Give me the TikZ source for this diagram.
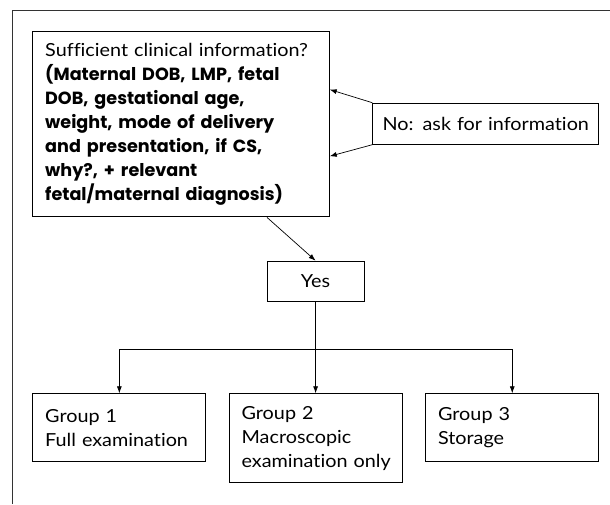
\documentclass[tikz,border=0pt]{standalone}
\usepackage{fontspec}
\setmainfont{Lato}[FakeStretch=1.1, RawFeature={-liga;-dlig}]
\newfontfamily\heavyfont{Poppins}
\newcommand{\hv}[1]{\mbox{\fontsize{17.6}{24}\selectfont\heavyfont\bfseries #1}}
\newcommand{\mytxt}[1]{\mbox{#1}}
\usetikzlibrary{arrows.meta}
\begin{document}
\begin{tikzpicture}[x=1pt,y=-1pt,
  box/.style={draw=black, line width=1pt, inner xsep=12.4pt, inner ysep=0pt, align=left, font=\fontsize{18}{24}\selectfont},
  conn/.style={line width=0.7pt, -{Latex[length=7pt,width=5pt]}},
  ]
\useasboundingbox (0,0) rectangle (610,504);
\draw[line width=0.8pt, black!80] (12.4,504) -- (12.4,10.5) -- (610,10.5);
\node[box, anchor=north west, text width=271.6pt, minimum height=185.7pt] (main) at (32.3,30.7)
 {\mytxt{Sufficient clinical information?}\\
  \hv{(Maternal DOB, LMP, fetal}\\
  \hv{DOB, gestational age,}\\
  \hv{weight, mode of delivery}\\
  \hv{and presentation, if CS,}\\
  \hv{why?, + relevant}\\
  \hv{fetal/maternal diagnosis)}};
\node[box, anchor=north west, align=center, inner xsep=2pt, text width=222pt, minimum height=41pt] (no) at (372.3,102.7) {\mytxt{No: ask for information}};
\node[box, anchor=north west, align=center, text width=72pt, minimum height=40pt] (yes) at (266.7,260.7) {Yes};
\node[box, anchor=north west, text width=148.3pt, minimum height=67.7pt] (g1) at (32.3,393.3) {\mytxt{Group 1}\\\mytxt{Full examination}};
\node[box, anchor=north west, text width=148pt, minimum height=89pt] (g2) at (228.7,393.3) {\mytxt{Group 2}\\\mytxt{Macroscopic}\\\mytxt{examination only}};
\node[box, anchor=north west, text width=148.3pt, minimum height=67.7pt] (g3) at (425.2,393.3) {\mytxt{Group 3}\\\mytxt{Storage}};
\coordinate (split) at (yes.south |- 0,349);
\draw[conn] (no.north west) -- ([yshift=34.5pt]main.east);
\draw[conn] (no.south west) -- ([yshift=-32.2pt]main.east);
\draw[conn] ([xshift=86pt]main.south) -- (yes.north);
\draw[conn] (yes.south) -- (g2.north);
\draw[conn] (split) -| (g1.north);
\draw[conn] (split) -| (g3.north);
\end{tikzpicture}
\end{document}
